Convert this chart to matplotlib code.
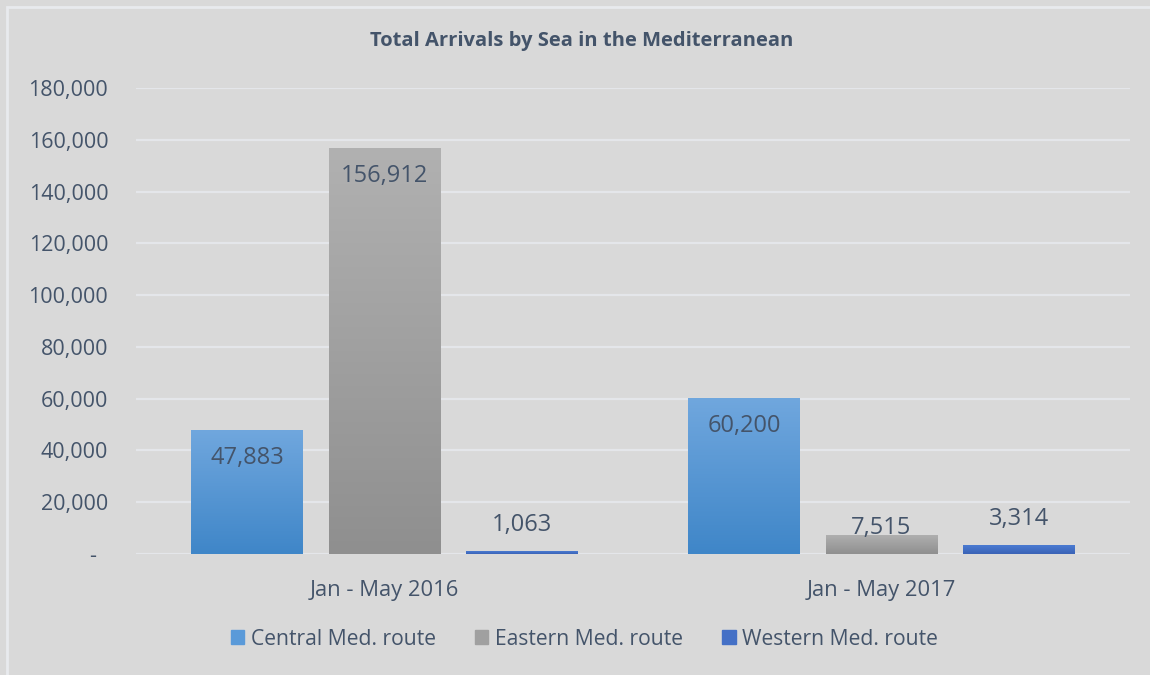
import numpy as np
import matplotlib.pyplot as plt
from matplotlib.colors import LinearSegmentedColormap
from matplotlib.patches import Rectangle

# === Data ===
periods = ["Jan - May 2016", "Jan - May 2017"]
routes = ["Central Med. route", "Eastern Med. route", "Western Med. route"]
central = [47883, 60200]
eastern = [156912, 7515]
western = [1063, 3314]
series = [central, eastern, western]

# === Style ===
BG = "#d9d9d9"
TXT = "#44546a"
GRID = "#e4e6ea"
grads = [("#70a7de", "#3f86c8"), ("#b1b1b1", "#8f8f8f"), ("#4b7bd2", "#3a63b6")]
legend_cols = ["#5a9ad9", "#a0a0a0", "#4470c6"]
# label placement: inside end for the first two series, outside end for the last
inside = [True, True, False]
plt.rcParams["font.family"] = ["Open Sans", "DejaVu Sans"]

fig = plt.figure(figsize=(11.5, 6.75), dpi=100, facecolor=BG)
fig.patches.append(Rectangle((0.006, -0.01), 1.2, 1.0, transform=fig.transFigure,
                             fill=False, edgecolor="#e8eaee", linewidth=2))
ax = fig.add_axes([0.1183, 0.1793, 0.8643, 0.6903], facecolor=BG)

x = np.arange(len(periods))
width = 0.225
step = 0.276
ymax = 180000
px = ymax / 466.0  # data units per pixel

for i, (vals, (ctop, cbot)) in enumerate(zip(series, grads)):
    cmap = LinearSegmentedColormap.from_list("g%d" % i, [cbot, ctop])
    bars = ax.bar(x + (i - 1) * step, vals, width, color="none", edgecolor="none",
                  label=routes[i], zorder=3)
    for b, v in zip(bars, vals):
        x0 = b.get_x()
        grad = np.linspace(0, 1, 256).reshape(-1, 1)
        im = ax.imshow(grad, cmap=cmap, origin="lower", aspect="auto",
                       extent=[x0, x0 + width, 0, v], zorder=3,
                       interpolation="bicubic")
        im.set_clip_path(b)
        cx = x0 + width / 2
        if inside[i]:
            ly = max(v - 28 * px, 26 * px)
        else:
            ly = v + 26 * px
        ax.text(cx, ly, f"{v:,}", ha="center", va="center", fontsize=17,
                color=TXT, zorder=5)

ax.set_xlim(-0.5, len(periods) - 0.5)
ax.set_ylim(0, ymax)

yt = np.arange(0, ymax + 1, 20000)
ax.set_yticks(yt)
ax.set_yticklabels(["-  "] + [f"{v:,}" for v in yt[1:]])
ax.set_xticks(x)
ax.set_xticklabels(periods)
ax.tick_params(axis="y", length=0, pad=20, labelsize=15.5, labelcolor=TXT)
ax.tick_params(axis="x", length=0, pad=19, labelsize=15.8, labelcolor=TXT)
ax.grid(axis="y", color=GRID, linewidth=1.6, zorder=0)
ax.set_axisbelow(True)
for s in ax.spines.values():
    s.set_visible(False)

fig.text(0.506, 0.939, "Total Arrivals by Sea in the Mediterranean", ha="center",
         va="center", fontsize=14.5, fontweight="bold", color=TXT)

handles = [Rectangle((0, 0), 1, 1, color=c) for c in legend_cols]
fig.legend(handles, routes, loc="center", bbox_to_anchor=(0.508, 0.053), ncol=3,
           frameon=False, fontsize=15.2, labelcolor=TXT, handlelength=0.65,
           handleheight=0.65, handletextpad=0.3, columnspacing=1.85)

fig.savefig("out.png", dpi=100, facecolor=BG)
